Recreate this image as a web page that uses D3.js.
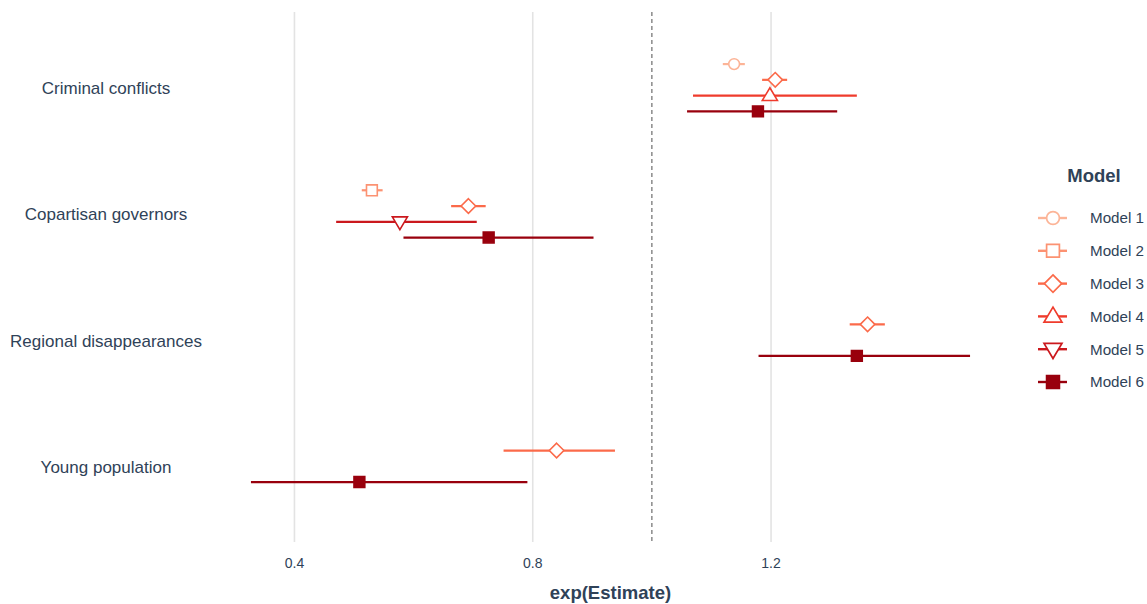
<!DOCTYPE html>
<html>
<head>
<meta charset="utf-8">
<script src="https://cdn.jsdelivr.net/npm/d3@7"></script>
<style>
  body { margin: 0; background: #fff; }
  text { font-family: "Liberation Sans", Arial, sans-serif; }
</style>
</head>
<body>
<svg id="chart"></svg>
<script>
// Chart data
var terms = ["Criminal conflicts", "Copartisan governors", "Regional disappearances", "Young population"];
var models = ["Model 1", "Model 2", "Model 3", "Model 4", "Model 5", "Model 6"];
var colors = ["#fcb497", "#fc9272", "#fb6a4a", "#ef3b2c", "#cb181d", "#99000d"];
var shapes = ["circle", "square", "diamond", "triangle", "triangleDown", "squareFilled"];
var xTicks = [0.4, 0.8, 1.2];

var rowTerm  = ["Criminal conflicts", "Criminal conflicts", "Criminal conflicts", "Criminal conflicts",
                "Copartisan governors", "Copartisan governors", "Copartisan governors", "Copartisan governors",
                "Regional disappearances", "Regional disappearances",
                "Young population", "Young population"];
var rowModel = ["Model 1", "Model 3", "Model 4", "Model 6",
                "Model 2", "Model 3", "Model 5", "Model 6",
                "Model 3", "Model 6",
                "Model 3", "Model 6"];
var rowEst   = [1.138, 1.207, 1.198, 1.178,  0.530, 0.692, 0.577, 0.726,  1.362, 1.344,  0.840, 0.509];
var rowLow   = [1.119, 1.185, 1.069, 1.059,  0.513, 0.663, 0.470, 0.583,  1.332, 1.179,  0.751, 0.327];
var rowHigh  = [1.156, 1.227, 1.344, 1.311,  0.548, 0.721, 0.706, 0.902,  1.391, 1.534,  0.938, 0.791];

var width = 1147, height = 604;
var panel = { left: 215, right: 1006, top: 12, bottom: 542 };
var textColor = "#2f4258";

var svg = d3.select("#chart")
    .attr("width", width)
    .attr("height", height);

// Build rows
var rows = rowTerm.map(function (t, i) {
  return { term: t, model: rowModel[i], est: rowEst[i], lo: rowLow[i], hi: rowHigh[i] };
});

// Scales (5% expansion like ggplot)
var xmin = d3.min(rowLow), xmax = d3.max(rowHigh);
var pad = (xmax - xmin) * 0.05;
var x = d3.scaleLinear()
    .domain([xmin - pad, xmax + pad])
    .range([panel.left, panel.right]);

var y = d3.scalePoint()
    .domain(terms)
    .range([panel.top, panel.bottom])
    .padding(0.6);

var color = d3.scaleOrdinal().domain(models).range(colors);
var shape = d3.scaleOrdinal().domain(models).range(shapes);

// Dodge models within each term
var dodgeWidth = 63;
rows.forEach(function (d) {
  var present = rows.filter(function (r) { return r.term === d.term; })
    .map(function (r) { return models.indexOf(r.model); })
    .sort(d3.ascending);
  var n = present.length;
  var i = present.indexOf(models.indexOf(d.model));
  d.yy = y(d.term) + (i - (n - 1) / 2) * (dodgeWidth / n);
});

// Shape path generator
function shapePath(type, s) {
  if (type === "circle") {
    return "M" + (-s) + ",0A" + s + "," + s + " 0 1,0 " + s + ",0A" + s + "," + s + " 0 1,0 " + (-s) + ",0Z";
  }
  if (type === "square" || type === "squareFilled") {
    return "M" + (-s) + "," + (-s) + "H" + s + "V" + s + "H" + (-s) + "Z";
  }
  if (type === "diamond") {
    var k = s * 1.35;
    return "M0," + (-k) + "L" + k + ",0L0," + k + "L" + (-k) + ",0Z";
  }
  var w = s * 1.4, top = s * 1.45, base = s * 0.9;
  if (type === "triangle") {
    return "M0," + (-top) + "L" + w + "," + base + "L" + (-w) + "," + base + "Z";
  }
  return "M0," + top + "L" + w + "," + (-base) + "L" + (-w) + "," + (-base) + "Z";
}

// Gridlines
svg.append("g")
  .selectAll("line")
  .data(xTicks)
  .enter().append("line")
    .attr("x1", function (d) { return x(d); })
    .attr("x2", function (d) { return x(d); })
    .attr("y1", panel.top)
    .attr("y2", panel.bottom)
    .attr("stroke", "#e3e3e3")
    .attr("stroke-width", 1.6);

// Reference line at 1
svg.append("line")
    .attr("x1", x(1)).attr("x2", x(1))
    .attr("y1", panel.top).attr("y2", panel.bottom)
    .attr("stroke", "#222")
    .attr("stroke-width", 0.8)
    .attr("stroke-dasharray", "4,3");

// Axis tick labels
svg.append("g")
  .selectAll("text")
  .data(xTicks)
  .enter().append("text")
    .attr("x", function (d) { return x(d); })
    .attr("y", 568)
    .attr("text-anchor", "middle")
    .style("font-size", "14px")
    .style("fill", textColor)
    .text(function (d) { return d3.format(".1f")(d); });

svg.append("text")
    .attr("x", (panel.left + panel.right) / 2)
    .attr("y", 599)
    .attr("text-anchor", "middle")
    .style("font-size", "18.5px")
    .style("font-weight", "bold")
    .style("fill", textColor)
    .text("exp(Estimate)");

// Term labels (centered)
svg.append("g")
  .selectAll("text")
  .data(terms)
  .enter().append("text")
    .attr("x", 106)
    .attr("y", function (d) { return y(d); })
    .attr("dy", "0.38em")
    .attr("text-anchor", "middle")
    .style("font-size", "17px")
    .style("fill", textColor)
    .text(function (d) { return d; });

// Confidence intervals
svg.append("g")
  .selectAll("line")
  .data(rows)
  .enter().append("line")
    .attr("x1", function (d) { return x(d.lo); })
    .attr("x2", function (d) { return x(d.hi); })
    .attr("y1", function (d) { return d.yy; })
    .attr("y2", function (d) { return d.yy; })
    .attr("stroke", function (d) { return color(d.model); })
    .attr("stroke-width", 2.2);

// Point estimates
svg.append("g")
  .selectAll("path")
  .data(rows)
  .enter().append("path")
    .attr("transform", function (d) { return "translate(" + x(d.est) + "," + d.yy + ")"; })
    .attr("d", function (d) { return shapePath(shape(d.model), 5.4); })
    .attr("fill", function (d) { return shape(d.model) === "squareFilled" ? color(d.model) : "#fff"; })
    .attr("stroke", function (d) { return color(d.model); })
    .attr("stroke-width", 1.6);

// Legend
var legend = svg.append("g");

legend.append("text")
    .attr("x", 1094)
    .attr("y", 182)
    .attr("text-anchor", "middle")
    .style("font-size", "18.5px")
    .style("font-weight", "bold")
    .style("fill", textColor)
    .text("Model");

var keys = legend.selectAll("g.key")
  .data(models)
  .enter().append("g")
    .attr("class", "key")
    .attr("transform", function (d, i) { return "translate(1053," + (218 + i * 32.8) + ")"; });

keys.append("line")
    .attr("x1", -15).attr("x2", 14)
    .attr("stroke", function (d) { return color(d); })
    .attr("stroke-width", 2.4);

keys.append("path")
    .attr("d", function (d) { return shapePath(shape(d), 6.4); })
    .attr("fill", function (d) { return shape(d) === "squareFilled" ? color(d) : "#fff"; })
    .attr("stroke", function (d) { return color(d); })
    .attr("stroke-width", 1.7);

keys.append("text")
    .attr("x", 37)
    .attr("dy", "0.36em")
    .style("font-size", "15.2px")
    .style("fill", textColor)
    .text(function (d) { return d; });
</script>
</body>
</html>
